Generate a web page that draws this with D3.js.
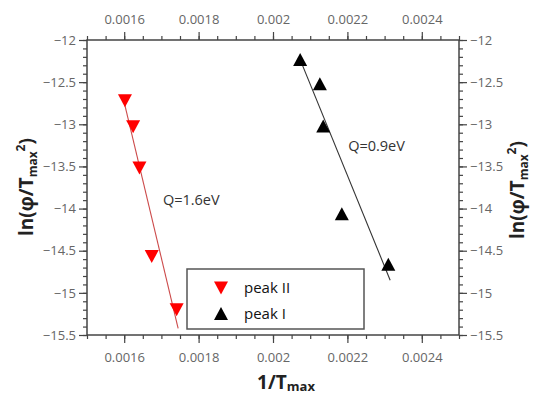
<!DOCTYPE html>
<html>
<head>
<meta charset="utf-8">
<script src="https://cdn.jsdelivr.net/npm/d3@7"></script>
<style>
  html, body { margin: 0; padding: 0; background: #fff; }
  svg { display: block; }
</style>
</head>
<body>
<svg id="chart" width="533" height="398"></svg>
<script>
// Peak II (red, down triangles) and peak I (black, up triangles)
const peak2X = [0.001602, 0.001624, 0.001641, 0.001674, 0.001741];
const peak2Y = [-12.72, -13.03, -13.52, -14.57, -15.20];
const peak1X = [0.002073, 0.002126, 0.002135, 0.002185, 0.00231];
const peak1Y = [-12.23, -12.52, -13.02, -14.06, -14.66];

// Linear fits (end points)
const fit2X = [0.0016, 0.001745];
const fit2Y = [-12.74, -15.42];
const fit1X = [0.00207, 0.002315];
const fit1Y = [-12.2, -14.85];

// Axis ticks
const xMajor = [0.0016, 0.0018, 0.002, 0.0022, 0.0024];
const xMinor = d3.range(0, 21).map(i => 0.0015 + i * 0.00005);
const yMajor = [-12, -12.5, -13, -13.5, -14, -14.5, -15, -15.5];
const yMinor = d3.range(0, 36).map(i => -12 - i * 0.1);

const seriesNames = ["peak II", "peak I"];
const annotations = [
  { text: "Q=1.6eV", x: 0.001704, y: -13.96 },
  { text: "Q=0.9eV", x: 0.002202, y: -13.32 }
];

const svg = d3.select("#chart");
const L = 87, R = 459, T = 40, B = 335;
const x = d3.scaleLinear().domain([0.0015, 0.0025]).range([L, R]);
const y = d3.scaleLinear().domain([-12, -15.5]).range([T, B]);

const axisColor = "#444";
const labelColor = "#666";
const font = "'Open Sans', 'DejaVu Sans', sans-serif";

const fmtX = d => String(+d.toFixed(4));
const fmtY = d => (d < 0 ? "\u2212" : "") + Math.abs(d);

function styleAxis(g) {
  g.select(".domain").remove();
  g.selectAll(".tick line").attr("stroke", axisColor).attr("stroke-width", 1.2);
  g.selectAll(".tick text").attr("fill", labelColor)
    .style("font-family", font).style("font-size", "13px");
}

// minor ticks
svg.append("g").attr("transform", `translate(0,${B})`)
  .call(d3.axisBottom(x).tickValues(xMinor).tickSize(4).tickFormat(""))
  .call(styleAxis);
svg.append("g").attr("transform", `translate(0,${T})`)
  .call(d3.axisTop(x).tickValues(xMinor).tickSize(4).tickFormat(""))
  .call(styleAxis);
svg.append("g").attr("transform", `translate(${L},0)`)
  .call(d3.axisLeft(y).tickValues(yMinor).tickSize(4).tickFormat(""))
  .call(styleAxis);
svg.append("g").attr("transform", `translate(${R},0)`)
  .call(d3.axisRight(y).tickValues(yMinor).tickSize(4).tickFormat(""))
  .call(styleAxis);

// major ticks with labels
svg.append("g").attr("transform", `translate(0,${B})`)
  .call(d3.axisBottom(x).tickValues(xMajor).tickSize(8).tickPadding(10).tickFormat(fmtX))
  .call(styleAxis);
svg.append("g").attr("transform", `translate(0,${T})`)
  .call(d3.axisTop(x).tickValues(xMajor).tickSize(8).tickPadding(8).tickFormat(fmtX))
  .call(styleAxis);
svg.append("g").attr("transform", `translate(${L},0)`)
  .call(d3.axisLeft(y).tickValues(yMajor).tickSize(8).tickPadding(3).tickFormat(fmtY))
  .call(styleAxis);
svg.append("g").attr("transform", `translate(${R},0)`)
  .call(d3.axisRight(y).tickValues(yMajor).tickSize(8).tickPadding(3).tickFormat(fmtY))
  .call(styleAxis);

// frame
svg.append("rect")
  .attr("x", L).attr("y", T).attr("width", R - L).attr("height", B - T)
  .attr("fill", "none").attr("stroke", axisColor).attr("stroke-width", 1.5);

// fit lines
const line = d3.line().x(d => x(d[0])).y(d => y(d[1]));
svg.append("path").datum(d3.zip(fit2X, fit2Y)).attr("d", line)
  .attr("fill", "none").attr("stroke", "#cc4a4a").attr("stroke-width", 1.1);
svg.append("path").datum(d3.zip(fit1X, fit1Y)).attr("d", line)
  .attr("fill", "none").attr("stroke", "#333").attr("stroke-width", 1.1);

// triangle markers
const downTri = "M-7,-6.5L7,-6.5L0,6.5Z";
const upTri = "M0,-6.5L7,6.5L-7,6.5Z";

svg.append("g").selectAll("path").data(d3.zip(peak2X, peak2Y)).join("path")
  .attr("d", downTri).attr("fill", "#ff0000")
  .attr("transform", d => `translate(${x(d[0])},${y(d[1])})`);
svg.append("g").selectAll("path").data(d3.zip(peak1X, peak1Y)).join("path")
  .attr("d", upTri).attr("fill", "#000")
  .attr("transform", d => `translate(${x(d[0])},${y(d[1])})`);

// annotations
svg.append("g").selectAll("text").data(annotations).join("text")
  .attr("x", d => x(d.x)).attr("y", d => y(d.y))
  .attr("fill", "#333").style("font-family", font).style("font-size", "14.5px")
  .text(d => d.text);

// legend
const lg = svg.append("g");
lg.append("rect").attr("x", 187).attr("y", 269).attr("width", 177).attr("height", 60)
  .attr("fill", "#fff").attr("stroke", "#555").attr("stroke-width", 1.5);
[downTri, upTri].forEach((p, i) => {
  lg.append("path").attr("d", p).attr("fill", i === 0 ? "#ff0000" : "#000")
    .attr("transform", `translate(221,${288 + i * 25.5})`);
  lg.append("text").attr("x", 244).attr("y", 293 + i * 25.5)
    .attr("fill", "#111").style("font-family", font).style("font-size", "15px")
    .text(seriesNames[i]);
});

// axis titles
function yTitle(g) {
  g.style("font-family", font).style("font-size", "19px").style("font-weight", "bold")
    .attr("fill", "#222").attr("text-anchor", "middle");
  g.append("tspan").text("ln(\u03C6/T");
  g.append("tspan").attr("dy", 4).style("font-size", "12px").text("max");
  g.append("tspan").attr("dy", -12).style("font-size", "12px").text("2");
  g.append("tspan").attr("dy", 8).text(")");
}
svg.append("text").attr("transform", "translate(33,187) rotate(-90)").call(yTitle);
svg.append("text").attr("transform", "translate(524,190) rotate(-90)").call(yTitle);

const xt = svg.append("text").attr("x", 286).attr("y", 389)
  .attr("text-anchor", "middle").attr("fill", "#222")
  .style("font-family", font).style("font-size", "19px").style("font-weight", "bold");
xt.append("tspan").text("1/T");
xt.append("tspan").attr("dy", 2).style("font-size", "13px").text("max");
</script>
</body>
</html>
